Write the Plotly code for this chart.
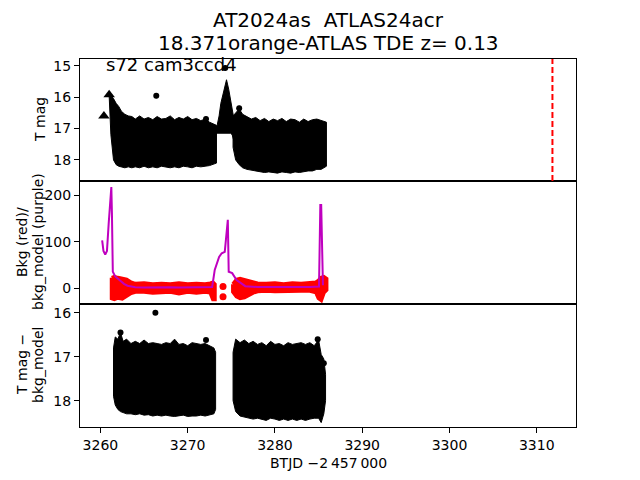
import plotly.graph_objects as go

# ---------------- data ----------------
# top panel: T mag band envelopes
top1_t = [3261.0, 3261.2, 3261.5, 3261.8, 3262.1, 3262.4, 3262.8, 3263.2, 3263.6, 3264.0, 3264.5,
          3265.0, 3265.5, 3266.0, 3266.5, 3267.0, 3267.5, 3268.0, 3268.5, 3269.0, 3269.5, 3270.0,
          3270.5, 3271.0, 3271.5, 3272.0, 3272.5, 3272.9, 3273.3]
top1_hi = [15.95, 15.95, 16.05, 16.2, 16.3, 16.45, 16.55, 16.6, 16.62, 16.7, 16.6, 16.7, 16.65,
           16.72, 16.62, 16.7, 16.68, 16.6, 16.72, 16.65, 16.7, 16.62, 16.72, 16.68, 16.75, 16.7,
           16.8, 16.85, 16.9]
top1_lo = [16.3, 17.2, 18.0, 18.15, 18.2, 18.22, 18.25, 18.22, 18.25, 18.22, 18.25, 18.2, 18.25,
           18.22, 18.25, 18.2, 18.22, 18.25, 18.22, 18.25, 18.2, 18.22, 18.25, 18.2, 18.22, 18.2,
           18.18, 18.15, 18.1]
spike_t = [3273.3, 3273.6, 3273.8, 3274.1, 3274.3, 3274.45, 3274.7, 3274.9, 3275.1, 3275.3]
spike_hi = [17.0, 16.6, 16.2, 15.8, 15.6, 15.45, 15.75, 16.1, 16.4, 16.7]
spike_lo = [17.15, 17.15, 17.15, 17.15, 17.15, 17.15, 17.15, 17.15, 17.2, 17.4]
top2_t = [3275.2, 3275.5, 3275.9, 3276.3, 3276.8, 3277.3, 3277.8, 3278.3, 3278.8, 3279.3, 3279.8,
          3280.3, 3280.8, 3281.3, 3281.8, 3282.3, 3282.8, 3283.3, 3283.8, 3284.3, 3284.8, 3285.3,
          3285.9]
top2_hi = [16.6, 16.5, 16.38, 16.55, 16.62, 16.7, 16.65, 16.75, 16.68, 16.78, 16.7, 16.75, 16.68,
           16.78, 16.7, 16.72, 16.8, 16.7, 16.78, 16.72, 16.7, 16.75, 16.8]
top2_lo = [17.6, 18.0, 18.15, 18.25, 18.3, 18.32, 18.35, 18.38, 18.4, 18.38, 18.4, 18.42, 18.38,
           18.4, 18.42, 18.38, 18.4, 18.38, 18.35, 18.35, 18.3, 18.3, 18.2]
top_pts_t = [3266.4, 3272.1, 3274.3, 3275.9]
top_pts_m = [15.96, 16.7, 15.08, 16.36]
tri_t = [3260.4, 3261.0]
tri_m = [16.6, 15.93]
marker_line_x = 3311.8

# middle panel: background (red) band and model (purple)
bkg1_t = [3261.3, 3261.6, 3262.0, 3262.5, 3263.0, 3263.5, 3264.0, 3265.0, 3266.0, 3267.0, 3268.0,
          3269.0, 3270.0, 3271.0, 3272.0, 3272.6, 3272.9, 3273.1]
bkg1_hi = [22, 24, 22, 20, 18, 12, 9, 10, 8, 9, 8, 10, 8, 9, 8, 10, 12, 8]
bkg1_lo = [-22, -24, -21, -23, -18, -11, -8, -8, -10, -9, -8, -12, -8, -10, -8, -10, -24, -24]
bkg2_t = [3275.2, 3275.6, 3276.0, 3276.5, 3277.0, 3277.5, 3278.0, 3279.0, 3280.0, 3281.0, 3282.0,
          3283.0, 3284.0, 3284.7, 3285.0, 3285.3, 3285.6, 3285.9]
bkg2_hi = [8, 18, 20, 18, 16, 12, 10, 9, 10, 8, 10, 9, 11, 12, 16, 22, 24, 20]
bkg2_lo = [-8, -18, -22, -20, -16, -10, -7, -6, -7, -6, -7, -6, -6, -9, -22, -26, -10, -4]
bkg_pts_t = [3274.05, 3274.05]
bkg_pts_v = [3, -19]
model_t = [3260.2, 3260.35, 3260.55, 3260.75, 3260.95, 3261.15, 3261.25, 3261.32, 3261.42, 3261.7,
           3262.0, 3262.3, 3262.7, 3263.1, 3263.5, 3264.0, 3265.0, 3266.0, 3267.0, 3268.0, 3269.0,
           3270.0, 3271.0, 3272.0, 3272.8, 3272.95, 3273.1, 3273.6, 3273.9, 3274.25, 3274.4,
           3274.6, 3274.7, 3275.1, 3275.6, 3276.6, 3278.0, 3280.0, 3282.0, 3284.0, 3285.05,
           3285.15, 3285.2, 3285.3, 3285.4, 3285.5]
model_v = [103, 80, 72, 80, 140, 200, 218, 160, 35, 25, 20, 15, 9, 5, 3, 1.5, 1, 1.5, 1, 1.5, 1,
           1.5, 1, 1.5, 2, 20, 39, 67, 75, 78, 107, 147, 35, 32, 17, 4, 2, 1.5, 1.5, 2, 3, 80,
           179, 179, 60, 6]

# bottom panel: T mag - bkg_model band envelopes
bot1_t = [3261.5, 3261.7, 3262.0, 3262.3, 3262.6, 3263.0, 3263.5, 3264.0, 3264.5, 3265.0, 3265.5,
          3266.0, 3266.5, 3267.0, 3267.5, 3268.0, 3268.5, 3269.0, 3269.5, 3270.0, 3270.5, 3271.0,
          3271.5, 3272.0, 3272.5, 3273.0, 3273.2]
bot1_hi = [16.8, 16.55, 16.6, 16.45, 16.65, 16.6, 16.7, 16.65, 16.7, 16.62, 16.7, 16.68, 16.7,
           16.72, 16.68, 16.7, 16.6, 16.72, 16.7, 16.75, 16.68, 16.7, 16.72, 16.7, 16.75, 16.8, 16.9]
bot1_lo = [17.9, 18.1, 18.2, 18.25, 18.28, 18.3, 18.3, 18.32, 18.3, 18.33, 18.32, 18.35, 18.33,
           18.35, 18.33, 18.35, 18.36, 18.35, 18.33, 18.36, 18.35, 18.35, 18.33, 18.35, 18.33,
           18.3, 18.2]
bot2_t = [3275.2, 3275.5, 3276.0, 3276.5, 3277.0, 3277.5, 3278.0, 3278.5, 3279.0, 3279.5, 3280.0,
          3280.5, 3281.0, 3281.5, 3282.0, 3282.5, 3283.0, 3283.5, 3284.0, 3284.5, 3285.0, 3285.3,
          3285.6, 3285.8]
bot2_hi = [16.9, 16.6, 16.68, 16.62, 16.7, 16.65, 16.72, 16.68, 16.75, 16.65, 16.72, 16.7, 16.75,
           16.68, 16.72, 16.7, 16.68, 16.72, 16.68, 16.75, 16.62, 16.95, 17.05, 17.4]
bot2_lo = [18.0, 18.25, 18.35, 18.38, 18.4, 18.42, 18.4, 18.42, 18.45, 18.4, 18.42, 18.45, 18.42,
           18.45, 18.42, 18.45, 18.42, 18.45, 18.42, 18.4, 18.4, 18.5, 18.3, 18.0]
bot_pts_t = [3266.3, 3272.1, 3262.3, 3284.9, 3285.6]
bot_pts_m = [16.0, 16.62, 16.45, 16.6, 17.15]

x_ticks = [3260, 3270, 3280, 3290, 3300, 3310]

# ---------------- figure ----------------
FONT = "DejaVu Sans"
fig = go.Figure()


def band(t, hi, lo, color, xa, ya, lw=1):
    xs = list(t) + list(t)[::-1] + [t[0]]
    ys = list(hi) + list(lo)[::-1] + [hi[0]]
    fig.add_trace(go.Scatter(x=xs, y=ys, mode="lines", fill="toself", fillcolor=color,
                             line=dict(color=color, width=lw), xaxis=xa, yaxis=ya,
                             hoverinfo="skip", showlegend=False))


# top panel
band(top1_t, top1_hi, top1_lo, "black", "x", "y")
band(spike_t, spike_hi, spike_lo, "black", "x", "y")
band(top2_t, top2_hi, top2_lo, "black", "x", "y")
fig.add_trace(go.Scatter(x=top_pts_t, y=top_pts_m, mode="markers",
                         marker=dict(color="black", size=6),
                         error_y=dict(type="constant", value=0.08, color="black", thickness=1.2, width=0),
                         xaxis="x", yaxis="y", showlegend=False))
fig.add_trace(go.Scatter(x=tri_t, y=tri_m, mode="markers",
                         marker=dict(color="black", size=10, symbol="triangle-up"),
                         xaxis="x", yaxis="y", showlegend=False))

# middle panel
band(bkg1_t, bkg1_hi, bkg1_lo, "red", "x2", "y2", lw=4)
band(bkg2_t, bkg2_hi, bkg2_lo, "red", "x2", "y2", lw=4)
fig.add_trace(go.Scatter(x=bkg_pts_t, y=bkg_pts_v, mode="markers",
                         marker=dict(color="red", size=7), xaxis="x2", yaxis="y2", showlegend=False))
fig.add_trace(go.Scatter(x=model_t, y=model_v, mode="lines",
                         line=dict(color="#bf00bf", width=2), xaxis="x2", yaxis="y2", showlegend=False))

# bottom panel
band(bot1_t, bot1_hi, bot1_lo, "black", "x3", "y3")
band(bot2_t, bot2_hi, bot2_lo, "black", "x3", "y3")
fig.add_trace(go.Scatter(x=bot_pts_t, y=bot_pts_m, mode="markers",
                         marker=dict(color="black", size=6),
                         xaxis="x3", yaxis="y3", showlegend=False))

# red dashed marker line in top panel
fig.add_shape(type="line", x0=marker_line_x, x1=marker_line_x, y0=0, y1=1,
              xref="x", yref="y domain", line=dict(color="red", width=2, dash="6px,3px"))

xr = [3257.66, 3314.5]
tickfont = dict(family=FONT, size=14, color="black")
base = dict(showline=True, mirror=True, linecolor="black", linewidth=1,
            showgrid=False, zeroline=False, ticklen=5,
            tickwidth=1, tickcolor="black", tickfont=tickfont)

d1 = 123 / 368
d2 = 246 / 368

fig.update_layout(
    width=640, height=480,
    margin=dict(l=80, r=64, t=59, b=53),
    plot_bgcolor="white", paper_bgcolor="white",
    font=dict(family=FONT, color="black"),
    xaxis=dict(range=xr, anchor="y", showticklabels=False, tickvals=x_ticks, ticks="", **base),
    xaxis2=dict(range=xr, anchor="y2", showticklabels=False, tickvals=x_ticks, ticks="", **base),
    xaxis3=dict(range=xr, anchor="y3", tickvals=x_ticks, ticks="outside", **base),
    yaxis=dict(domain=[d2, 1], range=[18.67, 14.79], tickvals=[15, 16, 17, 18], ticks="outside", **base),
    yaxis2=dict(domain=[d1, d2], range=[-34.5, 230.9], tickvals=[0, 100, 200], ticks="outside", **base),
    yaxis3=dict(domain=[0, d1], range=[18.60, 15.80], tickvals=[16, 17, 18], ticks="outside", **base),
)

ann = []
# title lines
ann.append(dict(text="AT2024as  ATLAS24acr", x=0.5, y=1 + 39 / 368, xref="paper", yref="paper",
                showarrow=False, font=dict(family=FONT, size=20), xanchor="center", yanchor="middle"))
ann.append(dict(text="18.371orange-ATLAS TDE z= 0.13", x=0.5, y=1 + 16 / 368, xref="paper", yref="paper",
                showarrow=False, font=dict(family=FONT, size=20), xanchor="center", yanchor="middle"))
# inset text
ann.append(dict(text="s72 cam3ccd4", x=24 / 496, y=0.955, xref="x domain", yref="y domain",
                showarrow=False, font=dict(family=FONT, size=18), xanchor="left", yanchor="middle"))
# y labels
lab = dict(family=FONT, size=14)


def ylab(text, xpx, ypx):
    ann.append(dict(text=text, x=(xpx - 80) / 496, y=(427 - ypx) / 368, xref="paper", yref="paper",
                    showarrow=False, textangle=-90, font=lab, xanchor="center", yanchor="middle"))


ylab("T mag", 40, 120)
ylab("Bkg (red)/", 22, 242)
ylab("bkg_model (purple)", 38, 242)
ylab("T mag \u2212", 22, 365)
ylab("bkg_model", 38, 365)
ann.append(dict(text="BTJD \u22122\u2009457\u2009000", x=0.5, y=-(463 - 427) / 368, xref="paper", yref="paper",
                showarrow=False, font=lab, xanchor="center", yanchor="middle"))
fig.update_layout(annotations=ann)

fig.write_html("out.html")
